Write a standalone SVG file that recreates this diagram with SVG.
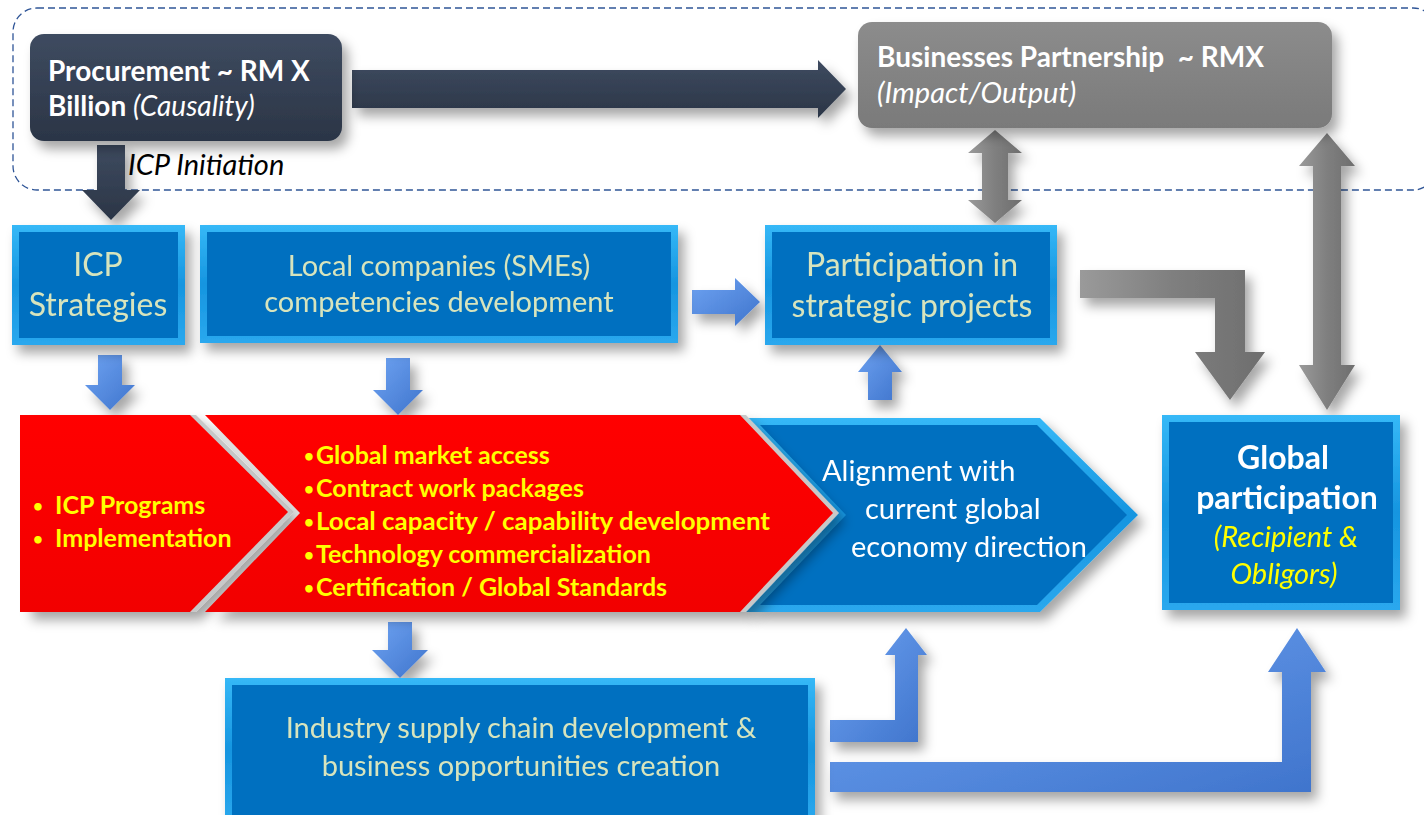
<svg xmlns="http://www.w3.org/2000/svg" width="1424" height="815" viewBox="0 0 1424 815">
<defs>
<filter id="sh" x="-20%" y="-20%" width="150%" height="160%">
<feDropShadow dx="6" dy="8" stdDeviation="6" flood-color="#000" flood-opacity="0.35"/>
</filter>
<linearGradient id="dark" x1="0" y1="0" x2="0" y2="1">
<stop offset="0" stop-color="#3E4B60"/><stop offset="1" stop-color="#2B3546"/>
</linearGradient>
<linearGradient id="grey" x1="0" y1="0" x2="0" y2="1">
<stop offset="0" stop-color="#8C8C8C"/><stop offset="1" stop-color="#7A7A7A"/>
</linearGradient>
<linearGradient id="greyArrV" x1="0" y1="0" x2="1" y2="0">
<stop offset="0" stop-color="#9A9A9A"/><stop offset="0.5" stop-color="#7F7F7F"/><stop offset="1" stop-color="#6E6E6E"/>
</linearGradient>
<linearGradient id="blueArr" x1="0" y1="0" x2="1" y2="1">
<stop offset="0" stop-color="#6EA3F2"/><stop offset="1" stop-color="#3F74CC"/>
</linearGradient>
<linearGradient id="edge" x1="0" y1="0" x2="0" y2="1">
<stop offset="0" stop-color="#35B8F7"/><stop offset="0.5" stop-color="#1695E0"/><stop offset="1" stop-color="#2AA8EE"/>
</linearGradient>
<linearGradient id="redFill" x1="0" y1="0" x2="0" y2="1">
<stop offset="0" stop-color="#FF0000"/><stop offset="1" stop-color="#F20000"/>
</linearGradient>
</defs>
<style>
.dash{fill:none;stroke:#2F5597;stroke-width:1.3;stroke-dasharray:7 4}
.bedge{fill:url(#edge)}
.bface{fill:#0070C0}
.t{font-family:Lato,"Liberation Sans",sans-serif}
.wb{fill:#fff;font-weight:bold}
.lt{fill:#D7E4BD}
.yb{fill:#FFFF00;font-weight:bold}
.gw{fill:#fff}
.it{font-style:italic}
.dk{fill:url(#dark)}
.gy{fill:url(#greyArrV)}
.ba{fill:url(#blueArr)}
.bul{font-size:17px}
</style>

<rect class="dash" x="13" y="8" width="1424" height="182" rx="24"/>

<g id="connectors">
<polygon class="dk" filter="url(#sh)" points="352,70 818,70 818,60 846,89 818,118 818,108 352,108"/>
<polygon class="dk" filter="url(#sh)" points="97,145 125,145 125,190 140,190 111,220 82,190 97,190"/>
<polygon class="gy" filter="url(#sh)" points="995,130 1022,153 1008,153 1008,200 1022,200 995,223 968,200 982,200 982,153 968,153"/>
<polygon class="gy" filter="url(#sh)" points="1327,133 1355,166 1341,166 1341,365 1355,365 1327,410 1299,365 1313,365 1313,166 1299,166"/>
<polygon class="gy" filter="url(#sh)" points="1080,270 1245,270 1245,352 1265,352 1230,400 1195,352 1215,352 1215,298 1080,298"/>
<polygon class="ba" filter="url(#sh)" points="692,290 735,290 735,278 760,302 735,326 735,314 692,314"/>
<polygon class="ba" filter="url(#sh)" points="98,355 122,355 122,385 135,385 110,410 85,385 98,385"/>
<polygon class="ba" filter="url(#sh)" points="386,358 410,358 410,390 423,390 398,415 373,390 386,390"/>
<polygon class="ba" filter="url(#sh)" points="880,345 902,372 892,372 892,400 868,400 868,372 858,372"/>
<polygon class="ba" filter="url(#sh)" points="388,622 412,622 412,650 428,650 400,678 372,650 388,650"/>
<polygon class="ba" filter="url(#sh)" points="830,720 895,720 895,655 885,655 906,628 927,655 918,655 918,742 830,742"/>
<polygon class="ba" filter="url(#sh)" points="830,762 1282,762 1282,672 1268,672 1297,628 1326,672 1311,672 1311,792 830,792"/>
</g>

<g id="procurement">
<rect x="30" y="34" width="312" height="107" rx="14" fill="url(#dark)" filter="url(#sh)"/>
<text class="t wb" x="48" y="81" font-size="28">Procurement ~ RM X</text>
<text class="t wb" x="48" y="116" font-size="28">Billion <tspan font-weight="normal" font-style="italic">(Causality)</tspan></text>
</g>

<g id="partnership">
<rect x="858" y="22" width="474" height="106" rx="14" fill="url(#grey)" filter="url(#sh)"/>
<text class="t wb" x="877" y="67" font-size="28">Businesses Partnership&#160; ~ RMX</text>
<text class="t gw it" x="877" y="103" font-size="29">(Impact/Output)</text>
</g>

<text class="t it" x="128" y="175" font-size="29" fill="#000">ICP Initiation</text>

<g id="icp-strategies" filter="url(#sh)">
<rect class="bedge" x="12" y="225" width="173" height="120"/>
<rect class="bface" x="19" y="232" width="159" height="106"/>
<text class="t lt" x="98" y="276" font-size="32" text-anchor="middle">ICP</text>
<text class="t lt" x="98" y="316" font-size="32" text-anchor="middle">Strategies</text>
</g>

<g id="local-companies" filter="url(#sh)">
<rect class="bedge" x="200" y="225" width="478" height="118"/>
<rect class="bface" x="207" y="232" width="464" height="104"/>
<text class="t lt" x="439" y="276" font-size="29" text-anchor="middle">Local companies (SMEs)</text>
<text class="t lt" x="439" y="312" font-size="29" text-anchor="middle">competencies development</text>
</g>

<g id="participation" filter="url(#sh)">
<rect class="bedge" x="765" y="225" width="292" height="120"/>
<rect class="bface" x="772" y="232" width="278" height="106"/>
<text class="t lt" x="912" y="276" font-size="32" text-anchor="middle">Participation in</text>
<text class="t lt" x="912" y="317" font-size="32" text-anchor="middle">strategic projects</text>
</g>

<g id="alignment" filter="url(#sh)">
<polygon class="bedge" points="745,418 1040,418 1138,515 1040,612 745,612 835,515"/>
<polygon class="bface" points="760,425 1037,425 1127,515 1037,605 760,605 846,515"/>
<text class="t gw" x="822" y="481" font-size="29">Alignment with</text>
<text class="t gw" x="865" y="519" font-size="29">current global</text>
<text class="t gw" x="851" y="557" font-size="29">economy direction</text>
</g>

<g id="icp-programs">
<polygon points="26,415 196,415 294,512 196,612 26,612" fill="#C8C8C8" filter="url(#sh)"/>
<polygon points="20,415 190,415 288,512 190,612 20,612" fill="url(#redFill)"/>
<text class="t yb bul" x="33" y="512">•</text>
<text class="t yb" x="55" y="514" font-size="25">ICP Programs</text>
<text class="t yb bul" x="33" y="545">•</text>
<text class="t yb" x="55" y="547" font-size="25">Implementation</text>
</g>

<g id="benefits">
<polygon points="211,415 746,415 839,513 746,612 211,612 306,513" fill="#C8C8C8" filter="url(#sh)"/>
<polygon points="205,415 740,415 833,513 740,612 205,612 300,513" fill="url(#redFill)"/>
<text class="t yb" x="304" y="464" font-size="25"><tspan class="bul" dy="-2">•</tspan><tspan x="316" dy="2">Global market access</tspan></text>
<text class="t yb" x="304" y="497" font-size="25"><tspan class="bul" dy="-2">•</tspan><tspan x="316" dy="2">Contract work packages</tspan></text>
<text class="t yb" x="304" y="530" font-size="25"><tspan class="bul" dy="-2">•</tspan><tspan x="316" dy="2" textLength="454" lengthAdjust="spacingAndGlyphs">Local capacity / capability development</tspan></text>
<text class="t yb" x="304" y="563" font-size="25"><tspan class="bul" dy="-2">•</tspan><tspan x="316" dy="2">Technology commercialization</tspan></text>
<text class="t yb" x="304" y="596" font-size="25"><tspan class="bul" dy="-2">•</tspan><tspan x="316" dy="2">Certification / Global Standards</tspan></text>
</g>

<g id="global-participation" filter="url(#sh)">
<rect class="bedge" x="1162" y="415" width="238" height="195"/>
<rect class="bface" x="1169" y="422" width="224" height="181"/>
<text class="t wb" x="1283" y="469" font-size="32" text-anchor="middle">Global</text>
<text class="t wb" x="1287" y="509" font-size="32" text-anchor="middle">participation</text>
<text class="t it" x="1286" y="547" font-size="29" text-anchor="middle" fill="#FFFF00">(Recipient &amp;</text>
<text class="t it" x="1284" y="584" font-size="29" text-anchor="middle" fill="#FFFF00">Obligors)</text>
</g>

<g id="supply-chain" filter="url(#sh)">
<rect class="bedge" x="225" y="678" width="590" height="145"/>
<rect class="bface" x="232" y="685" width="576" height="138"/>
<text class="t lt" x="521" y="738" font-size="29" text-anchor="middle">Industry supply chain development &amp;</text>
<text class="t lt" x="521" y="776" font-size="29" text-anchor="middle">business opportunities creation</text>
</g>
</svg>
